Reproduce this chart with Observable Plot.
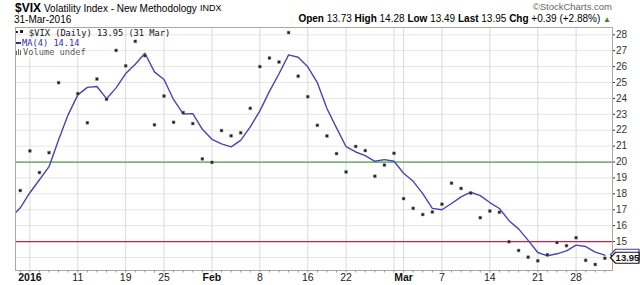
<!DOCTYPE html>
<html>
<head>
<meta charset="utf-8">
<script src="https://cdn.jsdelivr.net/npm/d3@7"></script>
<script src="https://cdn.jsdelivr.net/npm/@observablehq/plot@0.6"></script>
<style>
  html, body { margin: 0; padding: 0; background: #fff; }
  #wrap { position: relative; width: 640px; height: 285px; overflow: hidden; font-family: "Liberation Sans", Arial, sans-serif; }
  .t { position: absolute; white-space: nowrap; line-height: 1; }
  #chart { position: absolute; left: 0; top: 0; }
  .leg { font-family: "DejaVu Sans Mono", monospace; font-size: 8.7px; }
</style>
</head>
<body>
<div id="wrap">
  <div id="chart"></div>
  <div class="t" style="left:15px; top:1.8px; font-size:12px; font-weight:bold;">$VIX</div>
  <div class="t" style="left:44px; top:3.5px; font-size:10px;">Volatility Index - New Methodology</div>
  <div class="t" style="left:200px; top:4.4px; font-size:9px;">INDX</div>
  <div class="t" style="left:14px; top:14.5px; font-size:10px;">31-Mar-2016</div>
  <div class="t" style="right:28px; top:1.5px; font-size:9.5px; color:#666;">&copy;StockCharts.com</div>
  <div class="t" id="quote" style="right:29px; top:13.8px; font-size:10px;"></div>
  <div style="position:absolute; left:16px; top:38px; width:68px; height:19px; background:#fff;"></div>
  <div class="t leg" id="leg1" style="left:29px; top:28.6px; color:#111;"></div>
  <div class="t leg" id="leg2" style="left:22px; top:38.6px; color:#2e2ea8;"></div>
  <div class="t leg" id="leg3" style="left:23px; top:48.1px; color:#555;">Volume undef</div>
  <div style="position:absolute; left:16px; top:31px; width:2px; height:2px; background:#222;"></div>
  <div style="position:absolute; left:20px; top:30px; width:3px; height:3px; background:#222;"></div>
  <div style="position:absolute; left:16px; top:42px; width:5px; height:2px; background:#2e2ea8;"></div>
  <div style="position:absolute; left:16px; top:51px; width:1px; height:4px; background:#666;"></div>
  <div style="position:absolute; left:18px; top:49px; width:1px; height:6px; background:#666;"></div>
  <div style="position:absolute; left:20px; top:50px; width:1px; height:5px; background:#666;"></div>
</div>
<script>
// Daily closes of $VIX (first rows are the late-December warm-up for the 4-day moving average)
const dates = [
  "2015-12-24","2015-12-28","2015-12-29","2015-12-30","2015-12-31",
  "2016-01-04","2016-01-05","2016-01-06","2016-01-07","2016-01-08",
  "2016-01-11","2016-01-12","2016-01-13","2016-01-14","2016-01-15",
  "2016-01-19","2016-01-20","2016-01-21","2016-01-22",
  "2016-01-25","2016-01-26","2016-01-27","2016-01-28","2016-01-29",
  "2016-02-01","2016-02-02","2016-02-03","2016-02-04","2016-02-05",
  "2016-02-08","2016-02-09","2016-02-10","2016-02-11","2016-02-12",
  "2016-02-16","2016-02-17","2016-02-18","2016-02-19",
  "2016-02-22","2016-02-23","2016-02-24","2016-02-25","2016-02-26",
  "2016-02-29","2016-03-01","2016-03-02","2016-03-03","2016-03-04",
  "2016-03-07","2016-03-08","2016-03-09","2016-03-10","2016-03-11",
  "2016-03-14","2016-03-15","2016-03-16","2016-03-17","2016-03-18",
  "2016-03-21","2016-03-22","2016-03-23","2016-03-24",
  "2016-03-28","2016-03-29","2016-03-30","2016-03-31"
];
const closes = [
  15.74, 16.91, 16.08, 17.29, 18.21,
  20.70, 19.34, 20.59, 24.99, 27.01,
  24.30, 22.47, 25.22, 23.95, 27.02,
  26.05, 27.59, 26.69, 22.34,
  24.15, 22.50, 23.11, 22.42, 20.20,
  19.98, 21.98, 21.65, 21.84, 23.38,
  26.00, 26.54, 26.29, 28.14, 25.40,
  24.11, 22.31, 21.64, 20.53,
  19.38, 20.98, 20.72, 19.11, 19.81,
  20.55, 17.70, 17.09, 16.70, 16.86,
  17.35, 18.67, 18.34, 18.05, 16.50,
  16.92, 16.84, 14.99, 14.44, 14.02,
  13.79, 14.17, 14.94, 14.74,
  15.24, 13.82, 13.56, 13.95
];

// X-axis labels
const tickDates  = ["2016-01-04","2016-01-11","2016-01-19","2016-01-25","2016-02-01","2016-02-08","2016-02-16","2016-02-22","2016-03-01","2016-03-07","2016-03-14","2016-03-21","2016-03-28"];
const tickLabels = ["2016","11","19","25","Feb","8","16","22","Mar","7","14","21","28"];
const boldLabels = ["2016","Feb","Mar"];
const extraGridDates = ["2016-02-29"];
const yTicks = [15,16,17,18,19,20,21,22,23,24,25,26,27,28];
const yGrid  = [14,15,16,17,18,19,20,21,22,23,24,25,26,27,28];

// Reference levels
const levels = [
  {value: 20, color: "#4f9f4f"},
  {value: 15, color: "#cc1f45"}
];

// Header quote / legend values
const quoteNames  = ["Open","High","Low","Last","Chg"];
const quoteValues = ["13.73","14.28","13.49","13.95","+0.39 (+2.88%)"];
const seriesName = "$VIX (Daily)";
const lastDateLabel = "31 Mar";
const maPeriod = 4;
const maLast = 14.14;

const start = dates.indexOf("2016-01-04");
const rows = dates.map((d, k) => ({date: d, i: k - start, close: closes[k]}));
const idxOf = d => dates.indexOf(d) - start;
const tickIdx = tickDates.map(idxOf);
const labelOf = new Map(tickIdx.map((v, k) => [v, tickLabels[k]]));
const boldIdx = tickIdx.filter((v) => boldLabels.includes(labelOf.get(v)));
const normIdx = tickIdx.filter((v) => !boldLabels.includes(labelOf.get(v)));
const allIdx = rows.map(r => r.i).filter(i => i >= -1);
const gridIdx = tickIdx.concat(extraGridDates.map(idxOf));
const lastClose = closes[closes.length - 1];

// Header text
document.getElementById("quote").innerHTML =
  quoteNames.map((n, k) => `<b>${n}</b> ${quoteValues[k]}`).join(" ") +
  ' <span style="color:#2a8a2a;font-size:8px;">&#9650;</span>';
document.getElementById("leg1").textContent = `${seriesName} ${lastClose.toFixed(2)} (${lastDateLabel})`;
document.getElementById("leg2").textContent = `MA(${maPeriod}) ${maLast.toFixed(2)}`;

const chart = Plot.plot({
  width: 640,
  height: 285,
  marginLeft: 15,
  marginRight: 28,
  marginTop: 27,
  marginBottom: 15,
  x: {domain: [-1.5, 60.8], axis: null, label: null},
  y: {domain: [13.18, 28.46], axis: null, label: null},
  style: {fontFamily: "'Liberation Sans', Arial, sans-serif", background: "transparent", overflow: "visible"},
  marks: [
    Plot.gridY(yGrid, {stroke: "#e6e6e6", strokeOpacity: 1}),
    Plot.gridX(gridIdx, {stroke: "#dadada", strokeOpacity: 1}),
    Plot.ruleY(levels, {y: "value", stroke: "color", strokeWidth: 1.3}),
    Plot.lineY(rows, Plot.windowY({k: maPeriod, anchor: "end", reduce: "mean"},
      {x: "i", y: "close", stroke: "#4646b4", strokeWidth: 1.4, clip: true})),
    Plot.dot(rows, {x: "i", y: "close", symbol: "square", r: 1.6, fill: "#1a1a1a", stroke: "#8a8a8a", strokeWidth: 0.5, clip: true}),
    Plot.frame({stroke: "#a8a8a8"}),
    Plot.axisY({anchor: "right", label: null, ticks: yTicks, tickSize: 2, tickPadding: 1.5, fontSize: 10, tickFormat: d => String(d), color: "#333"}),
    Plot.axisX({anchor: "bottom", label: null, ticks: allIdx, tickSize: 2.5, tickFormat: () => "", color: "#999"}),
    Plot.axisX({anchor: "bottom", label: null, ticks: normIdx, tickSize: 0, tickPadding: 3, fontSize: 10.5, tickFormat: i => labelOf.get(i), color: "#222"}),
    Plot.axisX({anchor: "bottom", label: null, ticks: boldIdx, tickSize: 0, tickPadding: 3, fontSize: 10.5, fontWeight: "bold", tickFormat: i => labelOf.get(i), color: "#111"})
  ]
});
document.getElementById("chart").appendChild(chart);

// Value tags on the right axis, positioned through the plot's y scale
const ys = chart.scale("y");
const svg = d3.select(chart);
function tag(v, label, stroke, textColor) {
  const yy = ys.apply(v);
  const g = svg.append("g");
  g.append("path")
    .attr("d", `M610.5,${yy} L615.5,${yy - 5.5} H639 V${yy + 5.5} H615.5 Z`)
    .attr("fill", "#fff").attr("stroke", stroke).attr("stroke-width", 1.2);
  if (label) {
    g.append("text")
      .attr("x", 627.5).attr("y", yy).attr("dy", "0.36em")
      .attr("text-anchor", "middle").attr("font-weight", "bold")
      .attr("font-size", 9.5).attr("fill", textColor)
      .attr("font-family", "'Liberation Sans', Arial, sans-serif")
      .text(label);
  }
}
// MA(4) tag sits behind the close tag (its label is hidden in the reference)
tag(maLast, null, "#3a3aa8", "#3a3aa8");
tag(lastClose, lastClose.toFixed(2), "#111", "#111");
</script>
</body>
</html>
